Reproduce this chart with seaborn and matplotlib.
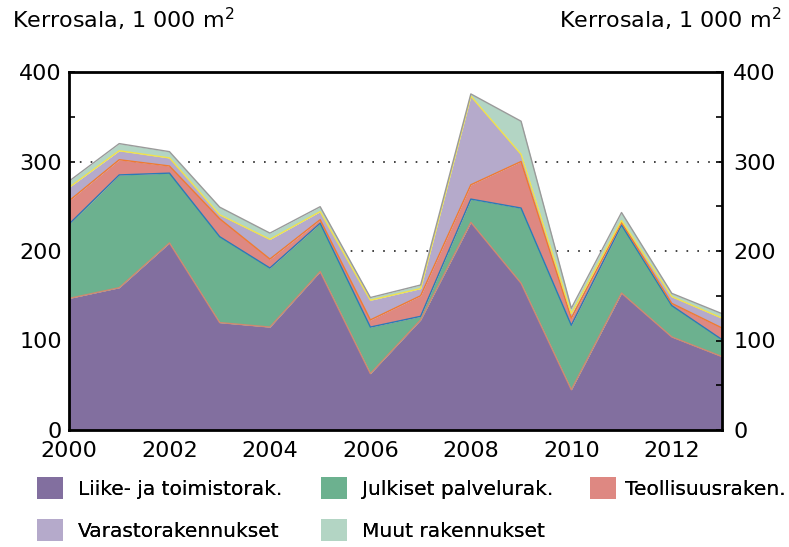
import numpy as np
import matplotlib
matplotlib.use("Agg")
import matplotlib.pyplot as plt
import seaborn as sns
from matplotlib.patches import Patch
from matplotlib.ticker import MultipleLocator

years = [2000, 2001, 2002, 2003, 2004, 2005, 2006,
         2007, 2008, 2009, 2010, 2011, 2012, 2013]

# kerrosala, 1 000 m2
liike = [147, 159, 209, 120, 115, 177, 63, 123, 232, 164, 45, 153, 104, 82]
julkiset = [83, 126, 78, 96, 66, 54, 52, 4, 26, 84, 72, 76, 35, 19]
teollisuus = [26, 17, 8, 20, 10, 4, 8, 23, 16, 52, 8, 3, 2.5, 13]
varasto = [15, 10, 9, 4.5, 22, 9, 22, 8, 99, 8, 5, 2, 7.5, 11]
muut = [7, 8, 7, 8.5, 7, 5.5, 3, 4, 2.5, 37, 6, 9, 3.7, 5]

labels = ["Liike- ja toimistorak.", "Julkiset palvelurak.", "Teollisuusraken.",
          "Varastorakennukset", "Muut rakennukset"]
fill_colors = ["#826f9f", "#6cb18f", "#de8882", "#b5aacb", "#b3d5c4"]
edge_colors = ["#d08870", "#2a7ab8", "#f07a30", "#f2e24a", "#9a9a9a"]

sns.set_theme(style="white")
plt.rcParams["font.family"] = ["DejaVu Sans"]
plt.rcParams["text.color"] = "black"
plt.rcParams["xtick.color"] = "black"
plt.rcParams["ytick.color"] = "black"

fig = plt.figure(figsize=(7.89, 5.47), dpi=100)
fig.subplots_adjust(left=69 / 789, right=722 / 789, bottom=1 - 430 / 547, top=1 - 72 / 547)
ax = fig.add_subplot(111)

# dotted gridlines behind the areas
for g in [100, 200, 300]:
    ax.axhline(g, color="#222222", lw=1.2, ls=(0, (1, 5.5)), zorder=0)

series = [liike, julkiset, teollisuus, varasto, muut]
bottom = np.zeros(len(years))
tops = []
for vals, fc in zip(series, fill_colors):
    top = bottom + np.array(vals)
    ax.fill_between(years, bottom, top, color=fc, lw=0, zorder=1)
    tops.append(top)
    bottom = top

for top, ec in zip(tops, edge_colors):
    sns.lineplot(x=years, y=top, color=ec, lw=1.0, ax=ax, zorder=2, legend=False)

ax.set_xlim(2000, 2013)
ax.set_ylim(0, 400)
ax.set_xticks(range(2000, 2013, 2))
ax.xaxis.set_minor_locator(MultipleLocator(1))
ax.set_yticks(range(0, 401, 100))
ax.yaxis.set_minor_locator(MultipleLocator(50))

for sp in ax.spines.values():
    sp.set_color("black")
    sp.set_linewidth(2.0)
    sp.set_zorder(5)

ax.tick_params(axis="x", which="major", direction="in", length=7, width=1.2,
               labelsize=16, pad=8, top=False)
ax.tick_params(axis="x", which="minor", direction="in", length=3.5, width=1.2, top=False)
ax.tick_params(axis="y", which="both", direction="in", length=4, width=1.2,
               labelsize=16, pad=5)

ax2 = ax.twinx()
ax2.set_ylim(0, 400)
ax2.set_yticks(range(0, 401, 100))
ax2.yaxis.set_minor_locator(MultipleLocator(50))
ax2.tick_params(axis="y", which="both", direction="in", length=4, width=1.2,
                labelsize=16, pad=8)
for sp in ax2.spines.values():
    sp.set_visible(False)
ax2.grid(False)

fig.text(12 / 789, 1 - 28 / 547, "Kerrosala, 1 000 m$^{2}$", fontsize=16,
         ha="left", va="baseline")
fig.text(781 / 789, 1 - 28 / 547, "Kerrosala, 1 000 m$^{2}$", fontsize=16,
         ha="right", va="baseline")

# one legend per column so the columns sit where they do in the original
handles = [Patch(facecolor=c, edgecolor="none") for c in fill_colors]
columns = [([0, 3], 37), ([1, 4], 321), ([2], 590)]
for idx, x0 in columns:
    leg = fig.legend([handles[i] for i in idx], [labels[i] for i in idx],
                     loc="upper left", bbox_to_anchor=(x0 / 789, 1 - 477 / 547),
                     frameon=False, fontsize=14.5, handlelength=1.3, handleheight=1.3,
                     handletextpad=0.75 if x0 < 500 else 0.45, labelspacing=1.0,
                     borderpad=0, borderaxespad=0)
    fig.add_artist(leg)

plt.savefig("out.png", dpi=100)
